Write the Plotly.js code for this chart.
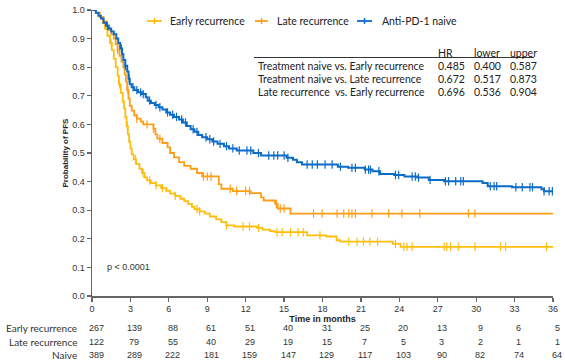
<!DOCTYPE html>
<html>
<head>
<meta charset="utf-8">
<script src="https://cdn.plot.ly/plotly-3.0.1.min.js"></script>
<style>html,body{margin:0;padding:0;background:#fff;}#chart{width:565px;height:361px;}</style>
</head>
<body>
<div id="chart"></div>
<script>
// ---- Kaplan-Meier step data (time in months, survival after step) ----
var earlyTimes = [0,0.3,0.6,0.85,1.0,1.2,1.4,1.55,1.7,1.85,2.0,2.1,2.25,2.4,2.5,2.6,2.7,2.8,2.9,3.0,3.1,3.25,3.45,3.7,3.9,4.1,4.3,4.6,5.0,5.4,5.8,6.1,6.5,6.9,7.2,7.5,7.8,8.0,8.4,8.8,9.2,9.7,10.1,10.5,11.1,12.9,13.3,13.9,14.3,16.8,18.3,19.1,19.4,23.5,24.1,36];
var earlySurv  = [1.0,0.99,0.975,0.955,0.935,0.91,0.885,0.86,0.83,0.80,0.77,0.74,0.71,0.68,0.655,0.625,0.595,0.565,0.54,0.515,0.495,0.478,0.462,0.445,0.43,0.415,0.404,0.395,0.387,0.377,0.368,0.358,0.35,0.34,0.332,0.322,0.312,0.304,0.296,0.288,0.278,0.268,0.258,0.247,0.243,0.238,0.232,0.227,0.223,0.212,0.208,0.195,0.19,0.182,0.172,0.172];
var earlyCensor = [1.5,2.15,2.75,3.4,4.0,4.5,5.0,5.5,6.5,8.2,8.4,10.5,11.8,12.3,13.0,14.45,14.85,15.5,16.1,16.5,17.8,20.05,20.7,21.2,21.7,22.3,23.7,24.35,24.6,25.0,27.5,27.7,28.0,28.6,29.9,31.9,32.3,35.5];

var lateTimes = [0,0.3,0.6,0.9,1.1,1.3,1.5,1.7,1.85,2.0,2.15,2.3,2.45,2.55,2.65,2.75,2.85,2.95,3.1,3.3,3.5,3.8,4.0,4.8,4.95,5.1,5.5,5.9,6.1,6.4,6.8,7.2,7.7,8.2,8.6,9.9,10.1,11.0,12.4,13.2,13.4,14.3,14.5,15.5,36];
var lateSurv  = [1.0,0.99,0.975,0.96,0.945,0.93,0.915,0.9,0.88,0.86,0.84,0.82,0.80,0.775,0.75,0.72,0.69,0.665,0.648,0.632,0.62,0.61,0.6,0.585,0.565,0.55,0.535,0.52,0.5,0.485,0.468,0.455,0.445,0.43,0.418,0.39,0.375,0.367,0.36,0.345,0.334,0.322,0.306,0.288,0.288];
var lateCensor = [2.0,2.8,3.5,4.3,4.8,5.3,8.7,9.0,9.3,10.8,11.3,12.0,12.3,14.4,14.7,15.0,17.3,17.97,19.14,19.66,20.05,20.3,20.57,21.87,23.17,24.2,25.6,29.4,29.9];

var naiveTimes = [0,0.3,0.5,0.7,0.9,1.1,1.3,1.5,1.7,1.9,2.05,2.2,2.35,2.45,2.6,2.75,2.85,2.95,3.1,3.3,3.6,3.9,4.2,4.35,4.6,4.9,5.2,5.5,5.8,6.1,6.4,6.8,7.1,7.4,7.7,8.0,8.3,8.6,9.0,9.4,9.8,10.3,10.7,11.3,12.6,13.2,15.2,15.7,16.0,16.4,19.2,20.0,21.3,21.9,22.5,23.6,24.4,25.4,26.3,27.5,30.5,30.9,32.8,35.1,35.3,36];
var naiveSurv  = [1.0,0.99,0.98,0.97,0.955,0.945,0.935,0.925,0.915,0.90,0.885,0.865,0.845,0.825,0.805,0.785,0.76,0.74,0.73,0.72,0.712,0.706,0.695,0.683,0.675,0.668,0.66,0.652,0.642,0.634,0.626,0.617,0.607,0.594,0.583,0.574,0.563,0.555,0.548,0.54,0.532,0.524,0.516,0.509,0.50,0.491,0.483,0.476,0.468,0.46,0.452,0.448,0.442,0.436,0.427,0.423,0.418,0.414,0.406,0.401,0.395,0.384,0.38,0.373,0.366,0.366];
var naiveCensor = [1.2,2.3,2.6,2.9,3.2,3.5,3.8,4.0,4.5,5.0,5.3,5.9,6.3,6.6,7.0,7.3,7.9,8.2,8.9,9.2,9.5,10.0,10.5,11.0,11.5,12.1,12.4,13.0,13.8,14.2,14.5,15.0,15.3,16.8,17.2,17.6,18.2,18.75,19.4,20.3,20.57,21.35,21.6,21.74,22.4,23.7,23.95,25.0,25.25,25.5,26.4,27.6,27.85,28.4,28.8,29.0,31.1,31.4,31.6,33.1,33.6,34.2,34.4,35.3,35.7,35.95];

// ---- Risk table ----
var riskTimes = [0,3,6,9,12,15,18,21,24,27,30,33,36];
var riskEarly = [267,139,88,61,51,40,31,25,20,13,9,6,5];
var riskLate  = [122,79,55,40,29,19,15,7,5,3,2,1,1];
var riskNaive = [389,289,222,181,159,147,129,117,103,90,82,74,64];
var riskLabels = ['Early recurrence','Late recurrence','Naive'];

// ---- Hazard ratio table ----
var hrHeader = ['HR','lower','upper'];
var hrLabels = ['Treatment naive vs. Early recurrence','Treatment naive vs. Late recurrence','Late recurrence\u00a0 vs. Early recurrence'];
var hrValues = ['0.485','0.672','0.696'];
var hrLower  = ['0.400','0.517','0.536'];
var hrUpper  = ['0.587','0.873','0.904'];

var seriesNames = ['Early recurrence','Late recurrence','Anti-PD-1 naive'];
var colors = ['#FFBE0B','#FF9E16','#0B6BC8'];

function stepAt(times, surv, t){
  var v = surv[0];
  for (var i=0;i<times.length;i++){ if (times[i] <= t) v = surv[i]; else break; }
  return v;
}

var groups = [
  [earlyTimes, earlySurv, earlyCensor],
  [lateTimes, lateSurv, lateCensor],
  [naiveTimes, naiveSurv, naiveCensor]
];
var traces = [];
groups.forEach(function(g, i){
  traces.push({
    x: g[0], y: g[1], type:'scatter', mode:'lines', line:{shape:'hv', color:colors[i], width:i===2?2:1.8},
    showlegend:false, hoverinfo:'skip', cliponaxis:false
  });
  traces.push({
    x: g[2], y: g[2].map(function(t){return stepAt(g[0], g[1], t);}),
    type:'scatter', mode:'markers',
    marker:{symbol:'line-ns-open', size:6, color:colors[i], line:{color:colors[i], width:1.2}},
    showlegend:false, hoverinfo:'skip', cliponaxis:false
  });
});

// pixel -> paper helpers (plot area: l=92, t=10, w=461, h=286)
var L=92, T=10, W=461, H=286;
function px(x){ return (x-L)/W; }
function py(y){ return (T+H-y)/H; }

var annotations = [];
var shapes = [];
var tableFont = {family:'Lato, "Liberation Sans", sans-serif', size:10.5, color:'#222'};

// manual legend
var legX = [[147,162,168],[255,268,275],[357,372,380]];
legX.forEach(function(p, i){
  shapes.push({type:'line', xref:'paper', yref:'paper', x0:px(p[0]), x1:px(p[1]), y0:py(21), y1:py(21), line:{color:colors[i], width:1.8}});
  var c = (p[0]+p[1])/2;
  shapes.push({type:'line', xref:'paper', yref:'paper', x0:px(c), x1:px(c), y0:py(18), y1:py(24), line:{color:colors[i], width:1.5}});
  annotations.push({xref:'paper', yref:'paper', x:px(p[2]), y:py(21), xanchor:'left', yanchor:'middle', showarrow:false, text:seriesNames[i], font:tableFont});
});

// HR table
var colX = [436,472,508];
hrHeader.forEach(function(h, j){
  annotations.push({xref:'paper', yref:'paper', x:px(colX[j]), y:py(52.5), xanchor:'left', yanchor:'middle', showarrow:false, text:h, font:tableFont});
});
shapes.push({type:'line', xref:'paper', yref:'paper', x0:px(254), x1:px(534), y0:py(57.5), y1:py(57.5), line:{color:'#333', width:1}});
var rowY = [66,79,92];
hrLabels.forEach(function(lbl, r){
  annotations.push({xref:'paper', yref:'paper', x:px(256), y:py(rowY[r]), xanchor:'left', yanchor:'middle', showarrow:false, text:lbl, font:tableFont});
  [hrValues, hrLower, hrUpper].forEach(function(arr, j){
    annotations.push({xref:'paper', yref:'paper', x:px(colX[j]), y:py(rowY[r]), xanchor:'left', yanchor:'middle', showarrow:false, text:arr[r], font:tableFont});
  });
});

// p-value
annotations.push({xref:'paper', yref:'paper', x:px(105), y:py(267), xanchor:'left', yanchor:'middle', showarrow:false, text:'p < 0.0001', font:{family:'"Liberation Sans", Arial, sans-serif', size:9, color:'#333'}});

// risk table
var riskRows = [riskEarly, riskLate, riskNaive];
var riskY = [328, 341.5, 355];
riskRows.forEach(function(row, r){
  annotations.push({xref:'paper', yref:'paper', x:px(79), y:py(riskY[r]), xanchor:'right', yanchor:'middle', showarrow:false, text:riskLabels[r], font:{family:'Lato, "Liberation Sans", sans-serif', size:10, color:'#333'}});
  row.forEach(function(n, k){
    annotations.push({xref:'x', yref:'paper', x:riskTimes[k], y:py(riskY[r]), xanchor:'center', yanchor:'middle', xshift:4, showarrow:false, text:String(n), font:{family:'"Liberation Sans", Arial, sans-serif', size:9, color:'#333'}});
  });
});

var layout = {
  width:565, height:361,
  margin:{l:L, r:565-L-W, t:T, b:361-T-H},
  paper_bgcolor:'#fff', plot_bgcolor:'#fff',
  font:{family:'"Liberation Sans", Arial, sans-serif', size:9, color:'#333'},
  showlegend:false,
  xaxis:{range:[0,36], tickvals:riskTimes, ticks:'outside', ticklen:4, tickwidth:1.3, tickcolor:'#666',
         showline:true, linecolor:'#666', linewidth:1.5, showgrid:false, zeroline:false,
         tickfont:{size:9, color:'#333'},
         title:{text:'<b>Time in months</b>', font:{size:9, color:'#222'}, standoff:0}},
  yaxis:{range:[0,1], dtick:0.1, tick0:0, tickformat:'.1f', ticks:'outside', ticklen:4, tickwidth:1.3, tickcolor:'#666',
         showline:true, linecolor:'#666', linewidth:1.5, showgrid:false, zeroline:false,
         tickfont:{size:9, color:'#333'},
         title:{text:'<b>Probability of PFS</b>', font:{size:8, color:'#222'}, standoff:2}},
  annotations:annotations,
  shapes:shapes
};

Plotly.newPlot('chart', traces, layout, {staticPlot:true, displayModeBar:false});
</script>
</body>
</html>
